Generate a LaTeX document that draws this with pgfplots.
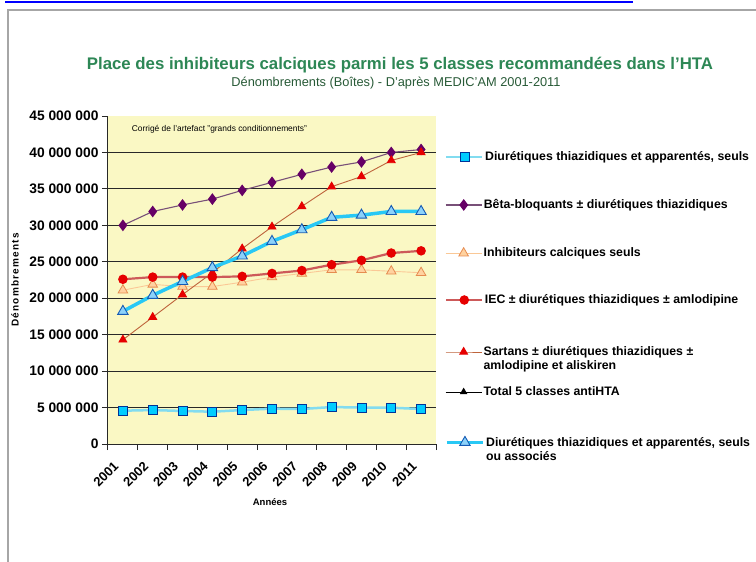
\documentclass[border=0pt]{standalone}
\usepackage{pgfplots}
\pgfplotsset{compat=1.18}
\usepackage{fontspec}
\setmainfont{Liberation Sans}
\newfontfamily\spacedfont[LetterSpace=12]{Liberation Sans}

\definecolor{plotbg}{RGB}{250,248,196}
\definecolor{titlegreen}{RGB}{45,135,85}
\definecolor{subgreen}{RGB}{40,90,55}
\definecolor{cyanline}{RGB}{130,220,240}
\definecolor{cyanfill}{RGB}{0,204,255}
\definecolor{navyedge}{RGB}{0,51,153}
\definecolor{purpleline}{RGB}{120,80,120}
\definecolor{purplefill}{RGB}{102,0,102}
\definecolor{orangeline}{RGB}{250,200,150}
\definecolor{orangeedge}{RGB}{230,140,80}
\definecolor{orangefill}{RGB}{255,210,160}
\definecolor{iecline}{RGB}{205,90,90}
\definecolor{iecfill}{RGB}{230,0,0}
\definecolor{sartline}{RGB}{190,100,60}
\definecolor{sartfill}{RGB}{230,0,0}
\definecolor{bigcyan}{RGB}{40,200,245}
\definecolor{bigtrifill}{RGB}{140,210,250}
\definecolor{bigtriedge}{RGB}{20,90,180}
\definecolor{gridc}{RGB}{40,40,40}

\pgfplotsset{
  s1/.style={cyanline, line width=2.5pt, mark=square*, mark size=4.5pt,
    mark options={solid, fill=cyanfill, draw=navyedge, line width=0.8pt}},
  s2/.style={purpleline, line width=1.1pt, mark=diamond*, mark size=5pt,
    mark options={solid, fill=purplefill, draw=purplefill}},
  s3/.style={orangeline, line width=0.9pt, mark=triangle*, mark size=5.5pt,
    mark options={solid, fill=orangefill, draw=orangeedge, line width=0.8pt}},
  s4/.style={iecline, line width=2.2pt, mark=*, mark size=3.6pt,
    mark options={solid, fill=iecfill, draw=iecfill}},
  s5/.style={sartline, line width=0.9pt, mark=triangle*, mark size=4.5pt,
    mark options={solid, fill=sartfill, draw=sartfill}},
  s6/.style={black, line width=0.9pt, mark=triangle*, mark size=3.5pt,
    mark options={solid, fill=black}},
  s7/.style={bigcyan, line width=3.5pt, mark=triangle*, mark size=6pt,
    mark options={solid, fill=bigtrifill, draw=bigtriedge, line width=0.9pt}},
  frame/.style={at={(108pt,-444pt)}, anchor=south west,
    width=328pt, height=328pt, scale only axis},
  legax/.style={frame, hide axis, xmin=0, xmax=1, ymin=0, ymax=1,
    legend image code/.code={\draw[mark repeat=2,mark phase=2,##1] plot coordinates {(0pt,0pt) (18pt,0pt) (36pt,0pt)};},
    legend style={at={(1.0274,#1)}, anchor=west, draw=none, fill=none,
      font=\bfseries\fontsize{12.3}{14}\selectfont, inner sep=0pt,
      nodes={inner sep=0pt}, column sep=1.5pt},
    legend cell align=left},
}

\begin{document}
\begin{tikzpicture}[x=1pt,y=1pt]
\path[use as bounding box] (0,0) rectangle (756,-562);
\fill[white] (0,0) rectangle (756,-562);
\draw[blue, line width=1.2pt] (5,-2) -- (633,-2);
\draw[gray!70, line width=2pt] (8,-600) -- (8,-10) -- (770,-10);

\node[font=\bfseries\fontsize{16.8}{19}\selectfont, text=titlegreen] at (400,-65)
  {Place des inhibiteurs calciques parmi les 5 classes recommandées dans l'HTA};
\node[font=\fontsize{12.8}{14}\selectfont, text=subgreen] at (396,-83.5)
  {Dénombrements (Boîtes) - D'après MEDIC'AM 2001-2011};

\node[rotate=90, font=\spacedfont\bfseries\fontsize{10}{12}\selectfont] at (15,-280) {Dénombrements};
\node[font=\bfseries\fontsize{9.5}{11}\selectfont] at (270,-502) {Années};

\begin{axis}[
  frame,
  xmin=0.5, xmax=11.5, ymin=0, ymax=45000000,
  axis lines*=left,
  axis line style={gridc, line width=1pt},
  axis background/.style={fill=plotbg},
  tick align=outside,
  major tick length=6pt,
  tick style={gridc, line width=1pt},
  xtick={0.5,1.5,2.5,3.5,4.5,5.5,6.5,7.5,8.5,9.5,10.5,11.5},
  xticklabels={2001,2002,2003,2004,2005,2006,2007,2008,2009,2010,2011},
  x tick label as interval,
  xticklabel style={xshift=-10pt, yshift=-6pt, rotate=45, anchor=north east, font=\bfseries\fontsize{13}{13}\selectfont},
  ytick={0,5000000,10000000,15000000,20000000,25000000,30000000,35000000,40000000},
  yticklabels={{0},{5 000 000},{10 000 000},{15 000 000},{20 000 000},{25 000 000},{30 000 000},{35 000 000},{40 000 000}},
  extra y ticks={45000000},
  extra y tick labels={{45 000 000}},
  extra y tick style={grid=none},
  yticklabel style={font=\bfseries\fontsize{13.8}{14}\selectfont},
  ymajorgrids,
  major grid style={gridc, line width=1pt},
  scaled y ticks=false,
  clip=false,
]
% 1 Diurétiques thiazidiques et apparentés, seuls
\addplot[s1] coordinates {(1,4570000) (2,4660000) (3,4530000) (4,4430000) (5,4660000) (6,4850000)
               (7,4800000) (8,5070000) (9,5000000) (10,4980000) (11,4800000)};
% 2 Bêta-bloquants
\addplot[s2] coordinates {(1,30000000) (2,31900000) (3,32800000) (4,33600000) (5,34800000) (6,35900000)
               (7,37000000) (8,38000000) (9,38700000) (10,40000000) (11,40400000)};
% 3 Inhibiteurs calciques seuls
\addplot[s3] coordinates {(1,21100000) (2,21900000) (3,21600000) (4,21600000) (5,22200000) (6,22900000)
               (7,23400000) (8,23900000) (9,23900000) (10,23700000) (11,23500000)};
% 4 IEC
\addplot[s4] coordinates {(1,22600000) (2,22900000) (3,22900000) (4,22900000) (5,23000000) (6,23400000)
               (7,23800000) (8,24600000) (9,25200000) (10,26200000) (11,26500000)};
% 5 Sartans
\addplot[s5] coordinates {(1,14300000) (2,17400000) (3,20500000) (4,23500000) (5,26800000) (6,29800000)
               (7,32600000) (8,35300000) (9,36700000) (10,38900000) (11,40000000)};
% 7 Diurétiques seuls ou associés
\addplot[s7] coordinates {(1,18200000) (2,20400000) (3,22300000) (4,24200000) (5,25800000) (6,27800000)
               (7,29400000) (8,31100000) (9,31400000) (10,31900000) (11,31900000)};

\node[anchor=west, font=\fontsize{8.4}{10}\selectfont] at (rel axis cs:0.062,0.96)
  {Corrigé de l'artefact "grands conditionnements"};
\end{axis}

% legend entries, one hidden axis each
\begin{axis}[legax=0.875]
\addlegendimage{s1}\addlegendentry{Diurétiques thiazidiques et apparentés, seuls}
\end{axis}
\begin{axis}[legax=0.7287]
\addlegendimage{s2}\addlegendentry{Bêta-bloquants ± diurétiques thiazidiques}
\end{axis}
\begin{axis}[legax=0.5823]
\addlegendimage{s3}\addlegendentry{Inhibiteurs calciques seuls}
\end{axis}
\begin{axis}[legax=0.439]
\addlegendimage{s4}\addlegendentry{IEC ± diurétiques thiazidiques ± amlodipine}
\end{axis}
\begin{axis}[legax=0.2805]
\addlegendimage{s5}\addlegendentry{\parbox[t]{275pt}{\raggedright Sartans ± diurétiques thiazidiques ±\\amlodipine et aliskiren}}
\end{axis}
\begin{axis}[legax=0.1585]
\addlegendimage{s6}\addlegendentry{Total 5 classes antiHTA}
\end{axis}
\begin{axis}[legax=0.006]
\addlegendimage{s7}\addlegendentry{\parbox[t]{275pt}{\raggedright Diurétiques thiazidiques et apparentés, seuls\\ou associés}}
\end{axis}
\end{tikzpicture}
\end{document}
